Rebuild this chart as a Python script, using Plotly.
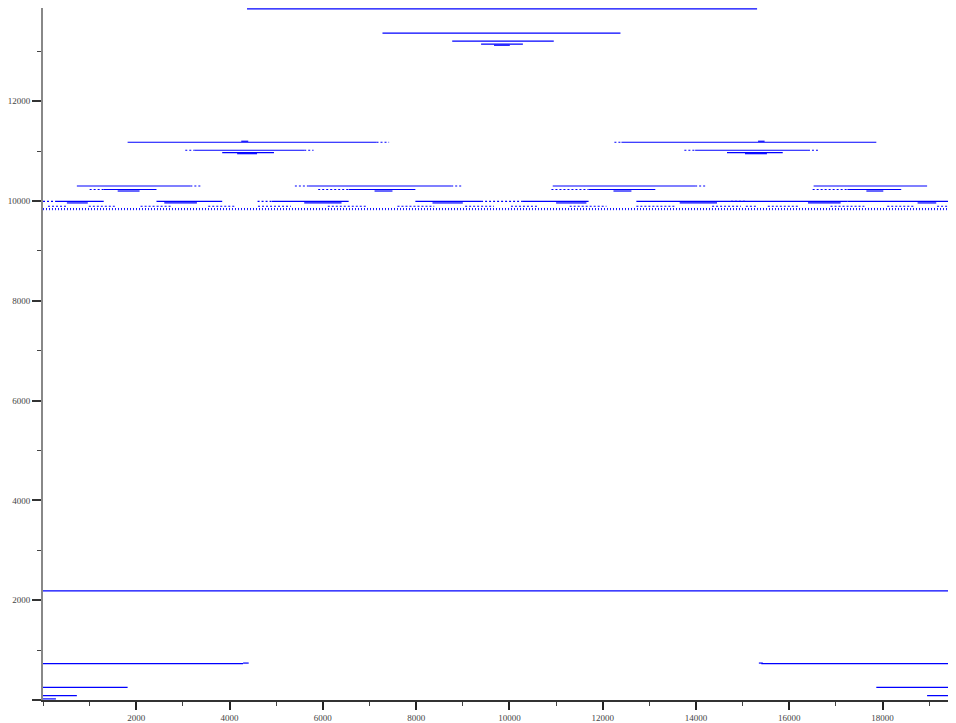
import plotly.graph_objects as go

# ---- data: horizontal runs of points (y value, x start, x end) ----
solid_y = [13848, 13363, 13204, 13144, 13120,
           11176, 11176, 11196, 11196,
           11016, 11016, 10967, 10967, 10947, 10947,
           10299, 10299, 10299, 10299,
           10229, 10229, 10229, 10229,
           10199, 10199, 10199, 10199,
           9990, 9990, 9990, 9990, 9990, 9990, 9990, 9990,
           9960, 9960, 9960, 9960, 9960, 9960, 9960, 9960,
           2185,
           730, 730, 740, 740,
           251, 251, 86, 86, 22, 22]
solid_x0 = [4374, 7278, 8773, 9392, 9669,
            1814, 12401, 4250, 15330,
            3250, 13981, 3842, 14664, 4162, 15050,
            726, 5699, 10928, 16521,
            1302, 6553, 11697, 17246,
            1601, 7108, 12230, 17652,
            277, 2433, 4909, 7983, 10288, 12721, 14749, 17246,
            512, 2600, 5600, 8350, 11000, 13650, 16400, 18750,
            0,
            0, 15400, 4290, 15347,
            0, 17865, 0, 18954, 0, 19402]
solid_x1 = [15309, 12380, 10950, 10288, 10010,
            7150, 17865, 4400, 15470,
            5600, 16400, 4952, 15859, 4589, 15520,
            3159, 8751, 13981, 18954,
            2433, 7983, 13127, 18399,
            2070, 7492, 12615, 18015,
            1302, 3842, 6553, 9392, 11697, 14749, 17246, 19402,
            960, 3300, 6400, 9000, 11650, 14450, 17100, 19150,
            19683,
            4290, 19683, 4410, 15432,
            1814, 19683, 726, 19683, 277, 19683]

dot_y = [11176, 11176, 11016, 11016, 11016, 11016,
         10299, 10299, 10299, 10299,
         10229, 10229, 10229, 10229,
         9990, 9990, 9990, 9990,
         9894, 9894, 9894, 9894, 9894, 9894, 9894, 9894, 9894,
         9894, 9894, 9894, 9894, 9894, 9894, 9894, 9894, 9894]
dot_x0 = [7150, 12250, 3050, 5600, 13750, 16400,
          3159, 5400, 8751, 13981,
          1000, 5900, 10900, 16500,
          0, 4600, 9392, 14749,
          107, 982, 2092, 3543, 4610, 6105, 7599, 9050, 10032,
          11291, 12721, 14344, 15069, 15539, 16884, 18100, 19168]
dot_x1 = [7420, 12401, 3250, 5800, 13981, 16650,
          3400, 5699, 9000, 14200,
          1302, 6553, 11697, 17246,
          277, 4909, 10288, 15069,
          512, 1580, 2775, 4120, 5315, 6958, 8388, 9669, 10630,
          12081, 13575, 14963, 15300, 16201, 17609, 18698, 19573]
band_y = [9847, 9825]
band_x0 = [0, 0]
band_x1 = [19683, 19683]

# tick labels
x_ticks = [2000, 4000, 6000, 8000, 10000, 12000, 14000, 16000, 18000]
x_tick_text = ["2000", "4000", "6000", "8000", "10000", "12000", "14000", "16000", "18000"]
y_ticks = [0, 2000, 4000, 6000, 8000, 10000, 12000]
y_tick_text = ["", "2000", "4000", "6000", "8000", "10000", "12000"]


def runs(ys, x0s, x1s):
    xs, yy = [], []
    for y, a, b in zip(ys, x0s, x1s):
        xs += [a, b, None]
        yy += [y, y, None]
    return xs, yy


BLUE = "#0000ff"
fig = go.Figure()

bx, by = runs(band_y, band_x0, band_x1)
fig.add_trace(go.Scatter(x=bx, y=by, mode="lines",
                         line=dict(color=BLUE, width=1, dash="1px,2px"),
                         hoverinfo="skip", showlegend=False))
dx, dy = runs(dot_y, dot_x0, dot_x1)
fig.add_trace(go.Scatter(x=dx, y=dy, mode="lines",
                         line=dict(color=BLUE, width=1.2, dash="2px,2px"),
                         hoverinfo="skip", showlegend=False))
sx, sy = runs(solid_y, solid_x0, solid_x1)
fig.add_trace(go.Scatter(x=sx, y=sy, mode="lines",
                         line=dict(color=BLUE, width=1.2),
                         hoverinfo="skip", showlegend=False))

tick_font = dict(family="Liberation Serif, DejaVu Serif, serif", size=9, color="#444444")

fig.update_layout(
    width=940, height=715,
    margin=dict(l=31, r=0, t=0, b=20, pad=0),
    plot_bgcolor="white", paper_bgcolor="white",
    showlegend=False,
    xaxis=dict(range=[0, 19402], showgrid=False, zeroline=False,
               showline=True, linecolor="#333333", linewidth=1.5,
               tickmode="array", tickvals=x_ticks, ticktext=x_tick_text,
               ticks="outside", ticklen=8, tickwidth=1.5, tickcolor="#222222",
               tickfont=tick_font,
               minor=dict(dtick=1000, tick0=0, ticks="outside", ticklen=4,
                          tickwidth=1.2, tickcolor="#444444", showgrid=False)),
    yaxis=dict(range=[0, 13866], showgrid=False, zeroline=False,
               showline=True, linecolor="#888888", linewidth=2,
               tickmode="array", tickvals=y_ticks, ticktext=y_tick_text,
               ticks="outside", ticklen=9, tickwidth=1.5, tickcolor="#333333",
               tickfont=tick_font,
               minor=dict(dtick=1000, tick0=0, ticks="outside", ticklen=4,
                          tickwidth=1.2, tickcolor="#444444", showgrid=False)),
)

fig.write_html("out.html")
